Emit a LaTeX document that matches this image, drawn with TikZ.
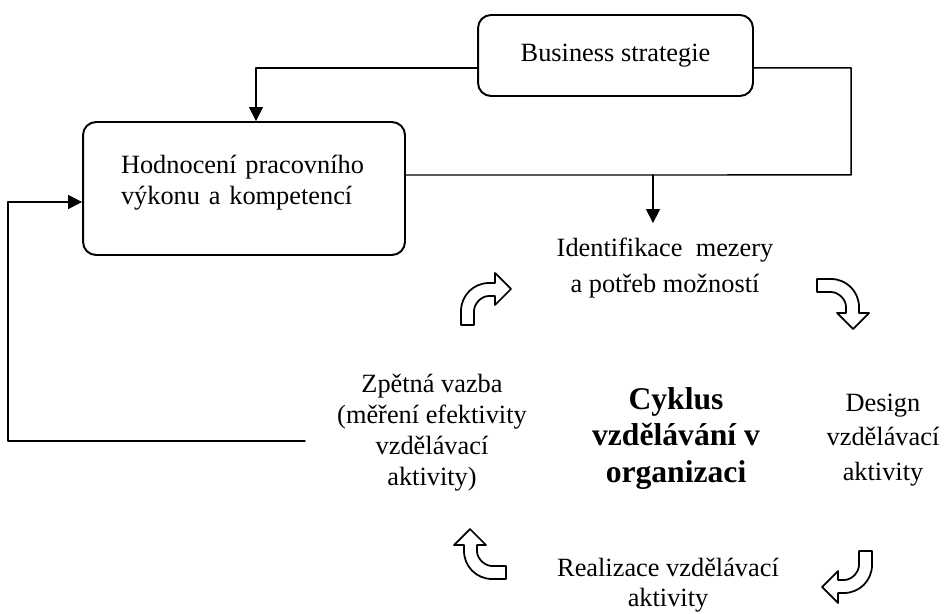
\documentclass[tikz,border=0pt]{standalone}
\usepackage{fontspec}
\setmainfont{Liberation Serif}
\usetikzlibrary{arrows.meta}

\begin{document}
\begin{tikzpicture}[
  x=0.02cm,
  y=-0.02cm,
  line cap=round,
  line join=round,
  box/.style={
    draw=black,
    line width=1.1pt,
    rounded corners=0.26cm,
    fill=white,
    font=\fontsize{15}{17}\selectfont,
    inner sep=0pt
  },
  phase/.style={
    align=center,
    anchor=base,
    inner sep=0pt,
    font=\fontsize{15}{16.5}\selectfont
  },
  flow/.style={
    -{Triangle[length=2.8mm,width=2.8mm]},
    line width=0.85pt
  },
  link/.style={
    line width=0.85pt
  },
  bendarrow/.pic={
    \draw[line width=1pt, fill=white]
      (0,0) -- (0,-14)
      .. controls (0,-29.5) and (12.5,-42) .. (28,-42)
      -- (34,-42) -- (34,-52) -- (50,-36) -- (34,-20) -- (34,-29)
      -- (28,-29)
      .. controls (19.7,-29) and (13,-20.7) .. (13,-14)
      -- (13,0) -- cycle;
  }
]
\useasboundingbox (0,0) rectangle (949,614);

% ------------------------------------------------
% Boxes
% ------------------------------------------------
\node[box, minimum width=5.5cm, minimum height=1.62cm] (business) at (615.5,55.5)
{Business strategie};

\node[box, align=left, text width=4.92cm, inner xsep=0.76cm, text depth=0.97cm,
  minimum height=2.66cm, font=\fontsize{15}{17.5}\selectfont] (hodnoceni) at (244,188.5)
{Hodnocení pracovního\\výkonu a kompetencí};

% ------------------------------------------------
% Cycle (anchored at the baseline of the last line)
% ------------------------------------------------
\node[phase, font=\fontsize{15}{20.5}\selectfont] (ident) at (665,293)
{Identifikace~~mezery\\a potřeb možností};

\node[phase, font=\fontsize{15}{19.5}\selectfont] (design) at (883,480)
{Design\\vzdělávací\\aktivity};

\node[phase, font=\fontsize{15}{17}\selectfont] (realiz) at (668,606)
{Realizace vzdělávací\\aktivity};

\node[phase, font=\fontsize{15}{17.5}\selectfont] (zpet) at (432,485)
{Zpětná vazba\\(měření efektivity\\vzdělávací\\aktivity)};

\node[phase, font=\bfseries\fontsize{18}{20.5}\selectfont] (cyklus) at (676,482)
{Cyklus\\vzdělávání v\\organizaci};

\pic (bendA) at (461,325) {bendarrow};
\pic[rotate=-90] (bendB) at (817,279) {bendarrow};
\pic[rotate=180] (bendC) at (872,551) {bendarrow};
\pic[rotate=90] (bendD) at (506,579) {bendarrow};

% ------------------------------------------------
% Connectors
% ------------------------------------------------
\coordinate (gap) at (653,175);
\coordinate (fbstart) at (305,441);
\coordinate (fbcorner) at (8,441);

\draw[flow] ([yshift=-0.25cm]business.west) -| ([xshift=0.24cm]hodnoceni.north);

\draw[link] ([yshift=-0.25cm]business.east) -| (851,175)
  -- ([yshift=0.27cm]hodnoceni.east);

\draw[flow, shorten >=0.3cm] (gap) -- (gap |- ident.north);

% Feedback back to the evaluation box.
\draw[flow] (fbstart) -- (fbcorner) |- ([yshift=-0.27cm]hodnoceni.west);

\end{tikzpicture}
\end{document}
